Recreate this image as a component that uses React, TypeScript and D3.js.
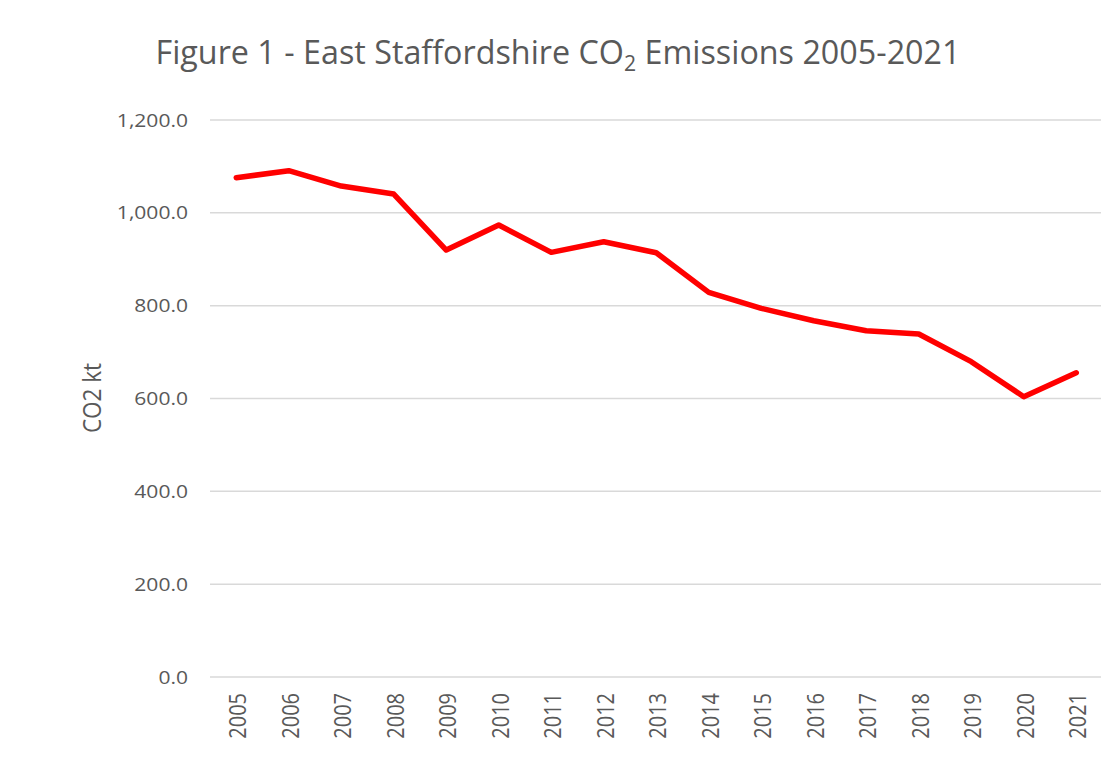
import React from 'react';
import * as d3 from 'd3';

const years = ['2005', '2006', '2007', '2008', '2009', '2010', '2011', '2012', '2013',
  '2014', '2015', '2016', '2017', '2018', '2019', '2020', '2021'];
const emissions = [1075.6, 1090.7, 1057.7, 1040.5, 919.9, 973.7, 914.9, 937.8, 914.1,
  828.7, 794.2, 767.6, 746.0, 738.9, 679.3, 603.8, 655.5];
const yTicks = [0, 200, 400, 600, 800, 1000, 1200];

const W = 1101, H = 758;
const left = 210, right = 1102.5, top = 120, bottom = 677;
const SX = 1.22; // labels in the picture are a bit wide
const grey = '#595959';
const font = '"Open Sans", sans-serif';

const App = () => {
  const x = d3.scalePoint<string>().domain(years).range([left, right]).padding(0.5);
  const y = d3.scaleLinear().domain([0, 1200]).range([bottom, top]);
  const fmt = d3.format(',.1f');

  const line = d3.line<number>()
    .x((d, i) => x(years[i]) as number)
    .y(d => y(d));

  return (
    <svg width={W} height={H} style={{ position: 'absolute', left: 0, top: 0, background: '#fff' }}
      fontFamily={font}>
      <rect width={W} height={H} fill="#fff" />

      {/* title */}
      <text x={558} y={63.5} textAnchor="middle" fontSize={32} fill={grey}
        textLength={805} lengthAdjust="spacingAndGlyphs">
        Figure 1 - East Staffordshire CO<tspan fontSize={21} dy={7}>2</tspan>
        <tspan dy={-7}> Emissions 2005-2021</tspan>
      </text>

      {/* grid */}
      {yTicks.map(t => (
        <line key={t} x1={left} x2={W} y1={y(t)} y2={y(t)} stroke="#d9d9d9" strokeWidth={1.5} />
      ))}

      {/* y ticks */}
      {yTicks.map(t => (
        <text key={t} transform={`translate(188,${y(t)}) scale(1.15,1)`} textAnchor="end"
          dy="0.36em" fontSize={18.3} fill={grey}>{fmt(t)}</text>
      ))}

      {/* x ticks */}
      {years.map(yr => (
        <text key={yr} transform={`translate(${(x(yr) as number) + 1},693) scale(${SX},1) rotate(-90)`}
          textAnchor="end" dy="0.36em" fontSize={20} fill={grey}>{yr}</text>
      ))}

      {/* y axis title */}
      <text transform={`translate(92,398) scale(1.1,1) rotate(-90)`} textAnchor="middle"
        dy="0.36em" fontSize={22.5} fill={grey}>CO2 kt</text>

      <path d={line(emissions) || ''} fill="none" stroke="#ff0000" strokeWidth={5.5}
        strokeLinejoin="round" strokeLinecap="round" />
    </svg>
  );
};

export default App;
